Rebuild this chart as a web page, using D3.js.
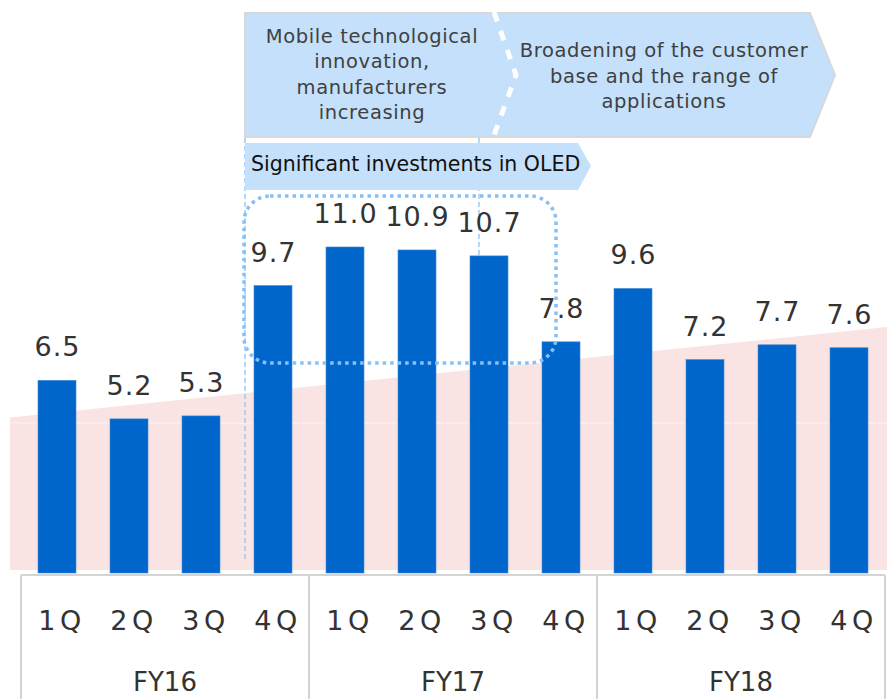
<!DOCTYPE html>
<html lang="en">
<head>
  <meta charset="UTF-8">
  <script src="https://d3js.org/d3.v7.min.js"></script>
  <style>
    body { margin: 0; background: white; font-family: 'DejaVu Sans', Verdana, sans-serif; }
    svg { display: block; }
  </style>
</head>
<body>
  <svg id="chart" width="887" height="699"></svg>
  <script>
    // data
    const years = ["FY16", "FY17", "FY18"];
    const quarters = ["1Q", "2Q", "3Q", "4Q"];
    const values = [6.5, 5.2, 5.3, 9.7, 11.0, 10.9, 10.7, 7.8, 9.6, 7.2, 7.7, 7.6];
    const trend = [5.25, 8.3];   // pink rising band, left and right end
    const boxText1 = ["Mobile technological", "innovation,", "manufacturers", "increasing"];
    const boxText2 = ["Broadening of the customer", "base and the range of", "applications"];
    const boxText3 = "Significant investments in OLED";

    const keys = [];
    years.forEach(y => quarters.forEach(q => keys.push(y + "-" + q)));

    const svg = d3.select("#chart");
    const left = 21, right = 885, baseline = 573;

    const x = d3.scaleBand()
      .domain(keys)
      .range([left, right])
      .paddingInner(34 / 72)
      .paddingOuter(17 / 72);

    const y = d3.scaleLinear()
      .domain([0, 11])
      .range([baseline, 247]);

    // pink trend band
    const tx = d3.scaleLinear().domain([0, 1]).range([10, 887]);
    svg.append("path")
      .attr("d", d3.area()
        .x((d, i) => tx(i))
        .y0(y(0) - 3)
        .y1(d => y(d))(trend))
      .attr("fill", "#fae4e3");
    svg.append("line")
      .attr("x1", 10).attr("x2", 887)
      .attr("y1", 423).attr("y2", 423)
      .attr("stroke", "#ffffff").attr("stroke-opacity", 0.5);

    // dashed period separators
    [245, 479].forEach(px => {
      svg.append("line")
        .attr("x1", px).attr("x2", px)
        .attr("y1", 138).attr("y2", px === 245 ? 562 : baseline)
        .attr("stroke", "#9cccf6")
        .attr("stroke-width", 1.5)
        .attr("stroke-dasharray", "5,3");
    });

    // bars
    svg.selectAll("rect.bar").data(values)
      .join("rect")
      .attr("class", "bar")
      .attr("x", (d, i) => x(keys[i]))
      .attr("width", x.bandwidth())
      .attr("y", d => y(d))
      .attr("height", d => y(0) - y(d))
      .attr("fill", "#0066cc")
      .attr("stroke", "#3d8ad8")
      .attr("stroke-width", 0.6);

    // value labels
    svg.selectAll("text.val").data(values)
      .join("text")
      .attr("class", "val")
      .attr("x", (d, i) => x(keys[i]) + x.bandwidth() / 2 + 0.5)
      .attr("y", d => y(d) - 24)
      .attr("text-anchor", "middle")
      .style("font-size", "27px")
      .style("letter-spacing", "1px")
      .style("fill", "#333333")
      .text(d => d3.format(".1f")(d));

    // dotted rounded frame around the OLED peak
    svg.append("rect")
      .attr("x", 244).attr("y", 196)
      .attr("width", 312).attr("height", 167)
      .attr("rx", 26).attr("ry", 26)
      .attr("fill", "none")
      .attr("stroke", "#86c1f6")
      .attr("stroke-width", 3.5)
      .attr("stroke-dasharray", "3.5,4");

    // category axis box
    const axisG = svg.append("g");
    axisG.append("line")
      .attr("x1", left).attr("x2", right)
      .attr("y1", 575).attr("y2", 575)
      .attr("stroke", "#d4d4d4").attr("stroke-width", 2);
    const step = x.step();
    d3.range(years.length + 1).forEach(i => {
      const px = left + i * step * quarters.length;
      axisG.append("line")
        .attr("x1", px).attr("x2", px)
        .attr("y1", 575).attr("y2", 699)
        .attr("stroke", "#d4d4d4").attr("stroke-width", 2);
    });

    axisG.selectAll("text.q").data(keys)
      .join("text")
      .attr("class", "q")
      .attr("x", d => x(d) + x.bandwidth() / 2 + 5)
      .attr("y", 630)
      .attr("text-anchor", "middle")
      .style("font-size", "27px")
      .style("letter-spacing", "4.5px")
      .style("fill", "#333333")
      .text(d => d.split("-")[1]);

    axisG.selectAll("text.fy").data(years)
      .join("text")
      .attr("class", "fy")
      .attr("x", (d, i) => left + (i + 0.5) * step * quarters.length)
      .attr("y", 691)
      .attr("text-anchor", "middle")
      .style("font-size", "26px")
      .style("fill", "#333333")
      .text(d => d);

    // annotation arrows
    const ann = svg.append("g");
    ann.append("path")
      .attr("d", "M245,13 L810,13 L835,75 L810,137 L245,137 Z")
      .attr("fill", "#c4e0fb")
      .attr("stroke", "#d8d8d8")
      .attr("stroke-width", 2);
    ann.append("path")
      .attr("d", "M494,12 L516,75 L493,138")
      .attr("fill", "none")
      .attr("stroke", "white")
      .attr("stroke-width", 5)
      .attr("stroke-dasharray", "10,10");
    ann.append("path")
      .attr("d", "M245,143 L578,143 L591,166 L578,190 L245,190 Z")
      .attr("fill", "#c4e0fb");

    boxText1.forEach((t, i) => {
      ann.append("text")
        .attr("x", 372).attr("y", 43 + i * 25.3)
        .attr("text-anchor", "middle")
        .style("font-size", "19.5px")
        .style("letter-spacing", "0.6px")
        .style("fill", "#404040")
        .text(t);
    });
    boxText2.forEach((t, i) => {
      ann.append("text")
        .attr("x", 664).attr("y", 57 + i * 25.5)
        .attr("text-anchor", "middle")
        .style("font-size", "19.5px")
        .style("letter-spacing", "0.6px")
        .style("fill", "#404040")
        .text(t);
    });
    ann.append("text")
      .attr("x", 251).attr("y", 171)
      .style("font-size", "20.5px")
      .style("fill", "#111111")
      .text(boxText3);
  </script>
</body>
</html>
